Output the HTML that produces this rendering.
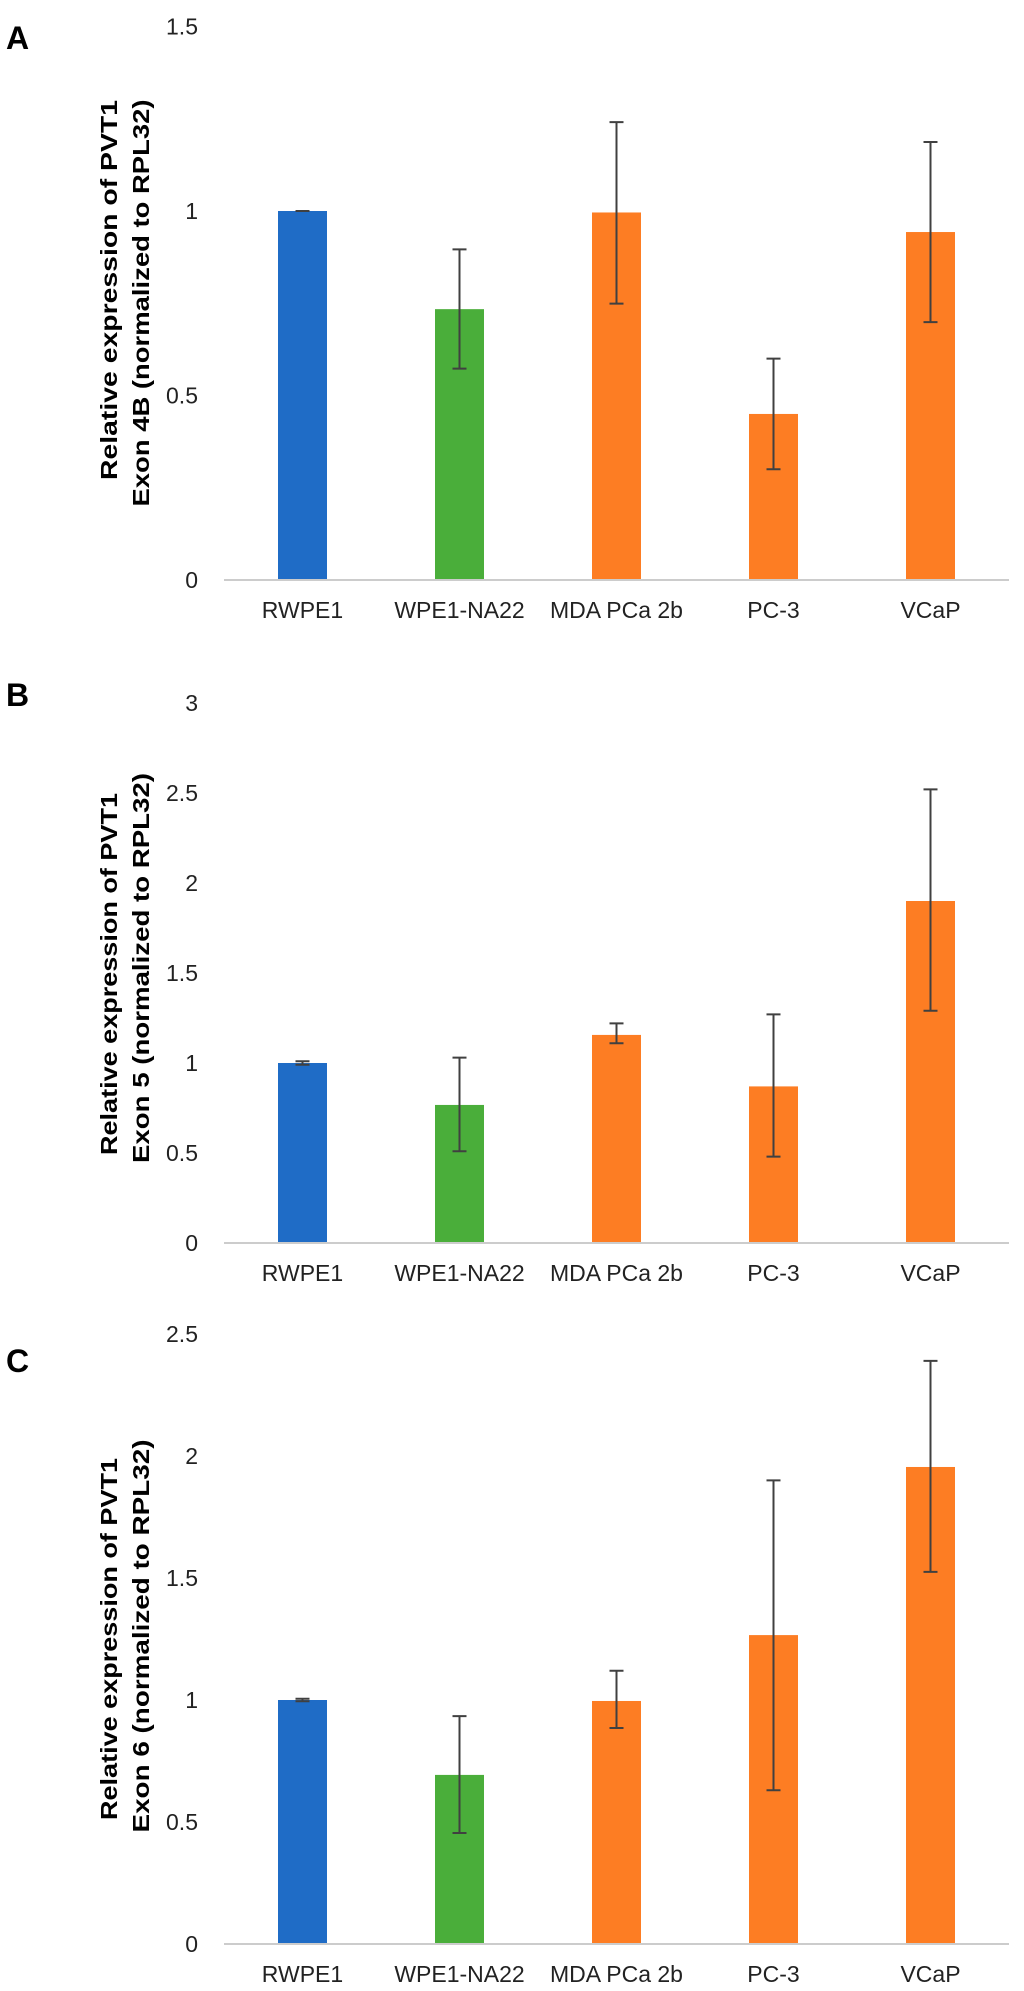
<!DOCTYPE html>
<html><head><meta charset="utf-8"><style>
body{margin:0;background:#fff}
svg{display:block;font-family:"Liberation Sans",Arial,sans-serif}
</style></head><body>
<svg id="fig" width="1024" height="1991" viewBox="0 0 1024 1991"></svg>
<script>
// shared categories
const categories = ["RWPE1","WPE1-NA22","MDA PCa 2b","PC-3","VCaP"];
const barColors = ["#1f6cc6","#4aae3a","#fd7d23","#fd7d23","#fd7d23"];
// Panel A: Exon 4B
const valuesA = [1.0, 0.734, 0.996, 0.45, 0.943];
const errHiA  = [1.0, 0.896, 1.241, 0.60, 1.187];
const errLoA  = [1.0, 0.573, 0.749, 0.30, 0.699];
const ticksA  = [0, 0.5, 1, 1.5];
const tickLabelsA = ["0","0.5","1","1.5"];
// Panel B: Exon 5
const valuesB = [1.0, 0.767, 1.156, 0.87, 1.90];
const errHiB  = [1.01, 1.03, 1.22, 1.27, 2.52];
const errLoB  = [0.99, 0.51, 1.11, 0.48, 1.29];
const ticksB  = [0, 0.5, 1, 1.5, 2, 2.5, 3];
const tickLabelsB = ["0","0.5","1","1.5","2","2.5","3"];
// Panel C: Exon 6
const valuesC = [1.0, 0.693, 0.996, 1.266, 1.955];
const errHiC  = [1.005, 0.934, 1.12, 1.90, 2.39];
const errLoC  = [0.995, 0.455, 0.885, 0.63, 1.525];
const ticksC  = [0, 0.5, 1, 1.5, 2, 2.5];
const tickLabelsC = ["0","0.5","1","1.5","2","2.5"];

const NS = "http://www.w3.org/2000/svg";
const svg = document.getElementById("fig");
function mk(tag, attrs, parent){
  const e = document.createElementNS(NS, tag);
  for (const k in attrs) e.setAttribute(k, attrs[k]);
  (parent||svg).appendChild(e);
  return e;
}
const x0 = 224, step = 157, barW = 49;
function xScale(i){ return x0 + step*(i+0.5); }

function panel(cfg){
  const g = mk("g", {});
  
  
  const y = v => cfg.y0 - v*cfg.ppu;

  const lab = mk("text", {x:6, y:cfg.letterY, "font-size":32, "font-weight":"bold", fill:"#000"}, g);
  lab.textContent = cfg.letter;
  
  

  // y axis title
  const t1 = mk("text", {transform:`translate(117,${cfg.t1c}) rotate(-90)`, "text-anchor":"middle", "font-size":23, "font-weight":"bold", textLength:cfg.t1len, lengthAdjust:"spacingAndGlyphs"}, g);
  t1.textContent = "Relative expression of PVT1";
  
  
  const t2 = mk("text", {transform:`translate(149,${cfg.t2c}) rotate(-90)`, "text-anchor":"middle", "font-size":23, "font-weight":"bold", textLength:cfg.t2len, lengthAdjust:"spacingAndGlyphs"}, g);
  t2.textContent = cfg.title2;
  
  

  cfg.ticks.forEach((tv, i) => {
    const t = mk("text", {x:198, y:y(tv)+8, "text-anchor":"end", "font-size":23, fill:"#222"}, g);
    t.textContent = cfg.tickLabels[i];
    
    
  });

  categories.forEach((c, i) => {
    const cx = xScale(i);
    const r = mk("rect", {x:cx-barW/2, y:y(cfg.values[i]), width:barW, height:cfg.values[i]*cfg.ppu, fill:barColors[i]}, g);
    
    
    const eb = mk("path", {d:`M${cx},${y(cfg.hi[i])}V${y(cfg.lo[i])}M${cx-7},${y(cfg.hi[i])}H${cx+7}M${cx-7},${y(cfg.lo[i])}H${cx+7}`, stroke:"#404040", "stroke-width":2, fill:"none"}, g);
    
    
    const t = mk("text", {x:cx, y:cfg.y0+38, "text-anchor":"middle", "font-size":23, fill:"#222"}, g);
    t.textContent = c;
    
    
  });

  const ax = mk("line", {x1:x0, x2:x0+5*step, y1:cfg.y0, y2:cfg.y0, stroke:"#cccccc", "stroke-width":2}, g);
  
  
}

panel({id:"a", letter:"A", letterY:49, y0:580, ppu:369, values:valuesA, hi:errHiA, lo:errLoA, ticks:ticksA, tickLabels:tickLabelsA,
  title2:"Exon  4B (normalized to RPL32)", t1c:290, t1len:380, t2c:303, t2len:407});
panel({id:"b", letter:"B", letterY:706, y0:1243, ppu:180, values:valuesB, hi:errHiB, lo:errLoB, ticks:ticksB, tickLabels:tickLabelsB,
  title2:"Exon  5 (normalized to RPL32)", t1c:974, t1len:362, t2c:968, t2len:390});
panel({id:"c", letter:"C", letterY:1372, y0:1944, ppu:244, values:valuesC, hi:errHiC, lo:errLoC, ticks:ticksC, tickLabels:tickLabelsC,
  title2:"Exon  6 (normalized to RPL32)", t1c:1639, t1len:362, t2c:1636, t2len:393});
</script>
</body></html>
